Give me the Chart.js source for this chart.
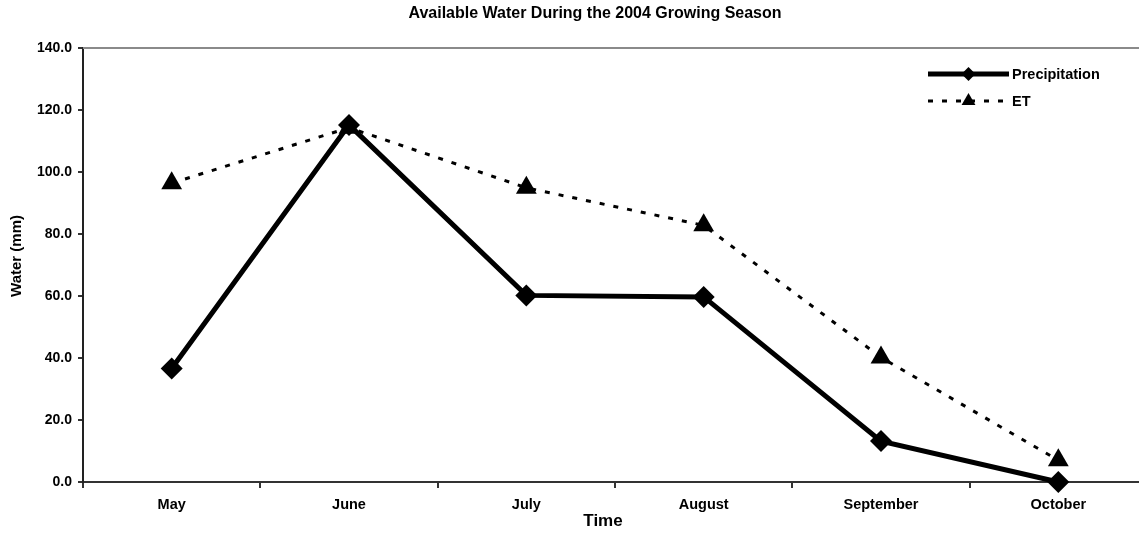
<!DOCTYPE html>
<html>
<head>
<meta charset="utf-8">
<script src="https://cdn.jsdelivr.net/npm/chart.js@4"></script>
<style>
  html, body { margin: 0; padding: 0; background: #fff; overflow: hidden; }
  #wrap { width: 1159px; height: 537px; }
</style>
</head>
<body>
<div id="wrap"><canvas id="waterChart" width="1159" height="537"></canvas></div>
<script>
// data
const months = ['May', 'June', 'July', 'August', 'September', 'October'];
const precipitation = [36.6, 115.2, 60.2, 59.7, 13.2, 0.0];
const et = [96.4, 114.3, 94.9, 82.8, 40.2, 7.0];
const yTicks = [0, 20, 40, 60, 80, 100, 120, 140];
const chartTitle = 'Available Water During the 2004 Growing Season';
const xTitle = 'Time';
const yTitle = 'Water (mm)';

const FONT = "'Liberation Sans', Arial, Helvetica, sans-serif";

// titles + little legend drawn by hand, the way the original sits
const lineLegend = {
    id: 'lineLegend',
    afterDatasetsDraw(chart) {
        const ctx = chart.ctx;
        const area = chart.chartArea;
        const midX = (area.left + area.right) / 2;
        const midY = (area.top + area.bottom) / 2;
        ctx.save();
        ctx.fillStyle = '#000';
        ctx.textAlign = 'center';
        ctx.textBaseline = 'middle';

        // main title, a bit left of the plot centre
        ctx.font = 'bold 16px ' + FONT;
        ctx.fillText(chartTitle, midX - 20, 14);

        // axis titles
        ctx.font = 'bold 17px ' + FONT;
        ctx.fillText(xTitle, midX - 12, 521);
        ctx.save();
        ctx.translate(17, midY - 9);
        ctx.rotate(-Math.PI / 2);
        ctx.font = 'bold 15px ' + FONT;
        ctx.fillText(yTitle, 0, 0);
        ctx.restore();

        const x0 = area.right - 219;
        const x1 = x0 + 81;
        const rows = [
            { ds: chart.data.datasets[1], y: area.top + 26 },
            { ds: chart.data.datasets[0], y: area.top + 53 }
        ];
        rows.forEach(r => {
            ctx.strokeStyle = '#000';
            ctx.lineWidth = r.ds.borderWidth;
            ctx.setLineDash(r.ds.borderDash || []);
            ctx.beginPath();
            ctx.moveTo(x0, r.y);
            ctx.lineTo(x1, r.y);
            ctx.stroke();
            ctx.setLineDash([]);
            Chart.helpers.drawPoint(ctx, {
                pointStyle: r.ds.pointStyle,
                radius: r.ds.legendRadius,
                borderWidth: 0
            }, (x0 + x1) / 2, r.y);
            ctx.fillStyle = '#000';
            ctx.font = 'bold 14.5px ' + FONT;
            ctx.textAlign = 'left';
            ctx.fillText(r.ds.label, x1 + 3, r.y + 1);
        });

        // grey frame line on top of the plot
        ctx.strokeStyle = '#8a8a8a';
        ctx.lineWidth = 2;
        ctx.beginPath();
        ctx.moveTo(area.left, area.top);
        ctx.lineTo(area.right, area.top);
        ctx.stroke();
        ctx.restore();
    }
};

const ctx = document.getElementById('waterChart').getContext('2d');
new Chart(ctx, {
    type: 'line',
    data: {
        labels: months,
        datasets: [{
            label: 'ET',
            data: et,
            borderColor: '#000',
            backgroundColor: '#000',
            borderWidth: 3,
            borderDash: [5, 9],
            pointStyle: 'triangle',
            pointRadius: 12,
            legendRadius: 8,
            pointBorderWidth: 0,
            tension: 0,
            clip: false,
            order: 0
        }, {
            label: 'Precipitation',
            data: precipitation,
            borderColor: '#000',
            backgroundColor: '#000',
            borderWidth: 5,
            pointStyle: 'rectRot',
            pointRadius: 11,
            legendRadius: 7,
            pointBorderWidth: 0,
            tension: 0,
            clip: false,
            order: 1
        }]
    },
    options: {
        responsive: false,
        animation: false,
        layout: { padding: { left: 5, right: 0, top: 48, bottom: 0 } },
        plugins: {
            legend: { display: false },
            tooltip: { enabled: false },
            title: { display: false }
        },
        scales: {
            x: {
                offset: true,
                grid: { offset: true, drawOnChartArea: false, tickLength: 6, tickColor: '#333', lineWidth: 2 },
                border: { color: '#333', width: 2 },
                ticks: { color: '#000', padding: 8, font: { family: FONT, size: 14.5, weight: 'bold' } },
                afterFit(scale) { scale.height = 55; }
            },
            y: {
                min: 0,
                max: 140,
                afterBuildTicks(scale) { scale.ticks = yTicks.map(v => ({ value: v })); },
                grid: { drawOnChartArea: false, tickLength: 5, tickColor: '#333', lineWidth: 2 },
                border: { color: '#222', width: 2 },
                ticks: {
                    color: '#000', padding: 6,
                    font: { family: FONT, size: 14, weight: 'bold' },
                    callback: v => Number(v).toFixed(1)
                },
                afterFit(scale) { scale.width = 78; }
            }
        }
    },
    plugins: [lineLegend]
});
</script>
</body>
</html>
